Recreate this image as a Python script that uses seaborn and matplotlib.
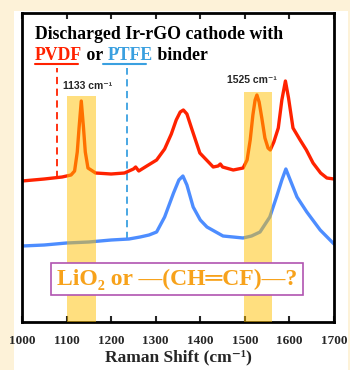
import matplotlib
matplotlib.use('Agg')

import numpy as np
import pandas as pd
import matplotlib.pyplot as plt
import seaborn as sns
from matplotlib.patches import Rectangle

# --------------------------------------------------------------------------- #
# DATA (intensity in arbitrary units)
# --------------------------------------------------------------------------- #
pvdf_shift = [1000, 1050, 1090, 1110, 1118, 1124, 1128, 1133, 1138, 1142,
              1148, 1165, 1200, 1230, 1250, 1255, 1262, 1280, 1302, 1320,
              1335, 1346, 1355, 1362, 1370, 1381, 1399, 1429, 1440, 1445,
              1450, 1474, 1496, 1505, 1512, 1518, 1523, 1527, 1532, 1538,
              1545, 1552, 1557, 1565, 1575, 1583, 1591, 1598, 1608, 1624,
              1638, 1653, 1670, 1684, 1700]
pvdf_int = [141, 143, 145, 147, 151, 170, 194, 221, 194, 170,
            154, 149, 148, 149, 153, 155, 151, 156, 162, 173,
            188, 202, 210, 212, 208, 193, 169, 155, 156, 158,
            155, 152, 154, 162, 182, 207, 222, 227, 220, 204,
            184, 174, 172, 180, 194, 222, 241, 224, 194, 182,
            172, 159, 149, 144, 143]

ptfe_shift = [1000, 1050, 1100, 1150, 1200, 1240, 1265, 1285, 1302, 1320,
              1340, 1352, 1361, 1370, 1384, 1400, 1415, 1451, 1496, 1515,
              1534, 1556, 1571, 1583, 1592, 1600, 1617, 1639, 1669, 1700]
ptfe_int = [76, 77, 79, 80, 82, 83, 85, 87, 90, 105,
            129, 142, 146, 137, 115, 102, 95, 86, 84, 86,
            90, 105, 125, 142, 153, 144, 125, 110, 92, 78]

bands = [(1102, 1166), (1497, 1560)]
band_tops = [226, 230]
xticks = [1000, 1100, 1200, 1300, 1400, 1500, 1600, 1700]

RED = "#FF2200"
BLUE = "#4D8DFF"
SKY = "#3AA0E0"
GOLD = "#FFC000"
ORANGE = "#F7A21B"
PURPLE = "#B054B0"
CREAM = "#FDF2D8"

# --------------------------------------------------------------------------- #
# STYLE
# --------------------------------------------------------------------------- #
sns.set_theme(style="ticks")
SERIF = ["Liberation Serif", "DejaVu Serif", "DejaVu Sans"]
SANS = ["Liberation Sans", "DejaVu Sans"]
plt.rcParams["font.family"] = SERIF
plt.rcParams["font.weight"] = "bold"
plt.rcParams["axes.labelweight"] = "bold"

fig = plt.figure(figsize=(3.5, 3.7), dpi=100)
fig.patch.set_facecolor(CREAM)
fig.add_artist(Rectangle((14 / 350, 0), 334 / 350, 359 / 370,
                         transform=fig.transFigure, fc="white", ec="none",
                         zorder=0))
ax = fig.add_axes([22 / 350, 48 / 370, 312 / 350, 309 / 370])

df = pd.concat([
    pd.DataFrame({"shift": pvdf_shift, "int": pvdf_int, "binder": "PVDF"}),
    pd.DataFrame({"shift": ptfe_shift, "int": ptfe_int, "binder": "PTFE"}),
])
sns.lineplot(data=df, x="shift", y="int", hue="binder",
             palette={"PVDF": RED, "PTFE": BLUE}, linewidth=2.4,
             legend=False, ax=ax, zorder=2)

for (lo, hi), top in zip(bands, band_tops):
    ax.axvspan(lo, hi, ymin=0, ymax=top / 309, color=GOLD, alpha=0.5,
               lw=0, zorder=3)

# dashed guide lines from the binder names down to the spectra
ax.plot([1079, 1079], [144, 254], color=RED, lw=1.3, ls=(0, (4, 2.5)), zorder=1)
ax.plot([1236, 1236], [83, 254], color=SKY, lw=1.3, ls=(0, (4, 2.5)), zorder=1)
ax.plot([1029, 1126], [258, 258], color=RED, lw=1.5, clip_on=False)
ax.plot([1182, 1279], [258, 258], color=SKY, lw=1.5, clip_on=False)

# title text
ax.text(1029, 283, "Discharged Ir-rGO cathode with", fontsize=12.8,
        color="black", va="baseline")
t = ax.text(1029, 262, "PVDF", fontsize=12.8, color=RED, va="baseline")
for word, col in [(" or ", "black"), ("PTFE", SKY), (" binder", "black")]:
    t = ax.annotate(word, xycoords=t, xy=(1, 0), va="bottom",
                    fontsize=12.8, color=col, fontweight="bold")

ax.text(1092, 233, "1133 cm⁻¹", family=SANS, fontsize=7.5, va="baseline")
ax.text(1460, 239, "1525 cm⁻¹", family=SANS, fontsize=7.5, va="baseline")

ax.text(1348, 43, "LiO₂ or —(CH═CF)—?", fontsize=17, color=ORANGE,
        ha="center", va="center", zorder=5,
        bbox=dict(boxstyle="square,pad=0.25", fc="white", ec=PURPLE, lw=1.2))

# axes
ax.set_xlim(1000, 1700)
ax.set_ylim(0, 309)
ax.set_xticks(xticks)
ax.set_yticks([])
ax.set_xlabel("Raman Shift (cm⁻¹)", fontsize=12.5, labelpad=2,
              fontweight="bold")
ax.set_ylabel("")
ax.tick_params(axis="x", which="both", direction="in", top=True,
               length=4, width=1.5, pad=9, labelsize=9.5)
for lab in ax.get_xticklabels():
    lab.set_fontweight("bold")
for sp in ax.spines.values():
    sp.set_linewidth(2)
    sp.set_color("black")
    sp.set_visible(True)

fig.savefig("out.png", dpi=100, facecolor=fig.get_facecolor())
